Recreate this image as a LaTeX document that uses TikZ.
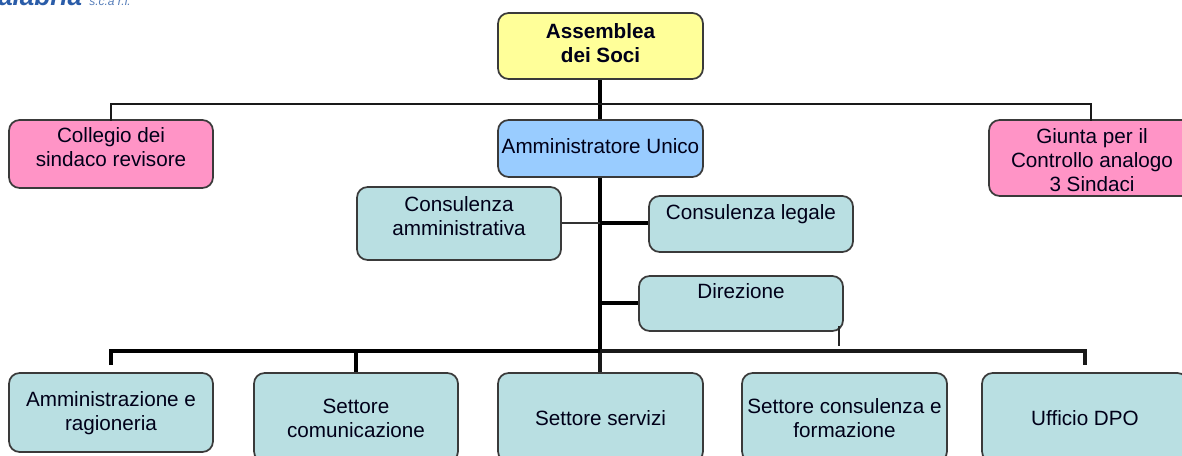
\documentclass[tikz,border=0pt]{standalone}
\usepackage{fontspec}
\setmainfont{Liberation Sans}
\definecolor{tealbox}{HTML}{B9DFE2}
\definecolor{pinkbox}{HTML}{FF94C6}
\definecolor{bluebox}{HTML}{99CCFF}
\definecolor{yellowbox}{HTML}{FFFF99}
\definecolor{edge}{HTML}{3A3A3A}
\definecolor{logoblue}{HTML}{2A5CA8}
\tikzset{
  boxbase/.style={draw=edge,line width=1.3pt,rounded corners=8pt,inner sep=0pt,text=black!90!blue,font=\fontsize{15.5}{18}\selectfont},
  teal/.style={boxbase,fill=tealbox},
  pinkb/.style={boxbase,fill=pinkbox},
  blueb/.style={boxbase,fill=bluebox},
  yellowb/.style={boxbase,fill=yellowbox},
  thinl/.style={line width=2pt,draw=black!80},
  midl/.style={line width=2.1pt,draw=black!90},
  thickl/.style={line width=3.2pt,draw=black},
}
% name, x0, y0, x1, y1, style, text shift (px, down), text
\newcommand\boxn[8]{%
  \pgfmathsetmacro\bw{(#4-#2)*0.75}\pgfmathsetmacro\bh{(#5-#3)*0.75}%
  \pgfmathsetmacro\dyy{-(#7+2.5)*0.75}%
  \node[#6,minimum width=\bw pt,minimum height=\bh pt] (#1) at ({(#2+#4)/2},{(#3+#5)/2})
    {\smash{\raisebox{\dimexpr\dyy pt-0.27em\relax}{\begin{tabular}[c]{@{}c@{}}#8\end{tabular}}}};}
\begin{document}
\begin{tikzpicture}[x=0.75pt,y=-0.75pt]
\useasboundingbox (0,0) rectangle (1182,456);
\clip (0,0) rectangle (1182,456);
\fill[white] (0,0) rectangle (1182,456);

\node[anchor=base west,inner sep=0pt,text=logoblue,font=\fontsize{19.5}{20}\selectfont\bfseries\itshape] (logo) at (-2,6) {alabria};
\node[anchor=base west,inner sep=0pt,text=logoblue!80,font=\fontsize{9}{9}\selectfont\itshape] (logos) at (89,6) {s.c.a r.l.};

\boxn{soci}{498}{13}{703}{79}{yellowb}{-3.5}{\textbf{Assemblea}\\\textbf{dei Soci}}
\boxn{coll}{9}{120}{213}{188}{pinkb}{-8}{Collegio dei\\sindaco revisore}
\boxn{admin}{498}{120}{703}{177}{blueb}{-3}{Amministratore Unico}
\boxn{giunta}{989}{120}{1195}{196}{pinkb}{1}{Giunta per il\\Controllo analogo\\3 Sindaci}
\boxn{cammin}{357}{187}{561}{260}{teal}{-8.5}{Consulenza\\amministrativa}
\boxn{clegale}{649}{196}{853}{252}{teal}{-12.5}{Consulenza legale}
\boxn{dir}{639}{276}{843}{331}{teal}{-13}{Direzione}
\boxn{ragion}{9}{373}{213}{452}{teal}{-2}{Amministrazione e\\ragioneria}
\boxn{comun}{254}{373}{458}{462}{teal}{-0.5}{Settore\\comunicazione}
\boxn{serv}{498}{373}{703}{462}{teal}{-0.5}{Settore servizi}
\boxn{form}{742}{373}{947}{462}{teal}{-0.5}{Settore consulenza e\\formazione}
\boxn{dpo}{982}{373}{1188}{462}{teal}{0}{Ufficio DPO}

% upper connectors
\coordinate (top) at (600,104);
\draw[thickl,line width=2.4pt] (soci.south -| top) -- (admin.north -| top);
\draw[midl,line cap=rect] (coll.north -| 111,0) |- (top) -| (giunta.north -| 1091,0);

% main trunk
\coordinate (trunk) at (600,177);
\coordinate (bus) at (600,351);
\draw[thickl] (admin.south -| trunk) -- (bus);
\draw[midl,line width=2.4pt] (bus) -- (serv.north -| bus);
\coordinate (cj) at (600,223);
\draw[thinl] (cammin.east |- cj) -- (cj);
\draw[thickl,line width=2.6pt] (cj) -- (clegale.west |- cj);
\coordinate (dj) at (600,303);
\draw[thickl,line width=2.6pt] (dj) -- (dir.west |- dj);

% bus
\coordinate (busl) at (111,365);
\coordinate (busr) at (1085,365);
\draw[thickl,line width=3pt,line join=miter] (busl) |- (bus);
\draw[midl,line width=2.7pt,line join=miter] (bus) -| (busr);
\coordinate (cjb) at (356,351);
\draw[thickl,line width=3pt] (cjb) -- (comun.north -| cjb);

% tick at the corner of Direzione
\coordinate (tka) at (839,326);
\coordinate (tkb) at (839,346);
\draw[line width=1.6pt,draw=black!85] (tka) -- (tkb);
\end{tikzpicture}
\end{document}
